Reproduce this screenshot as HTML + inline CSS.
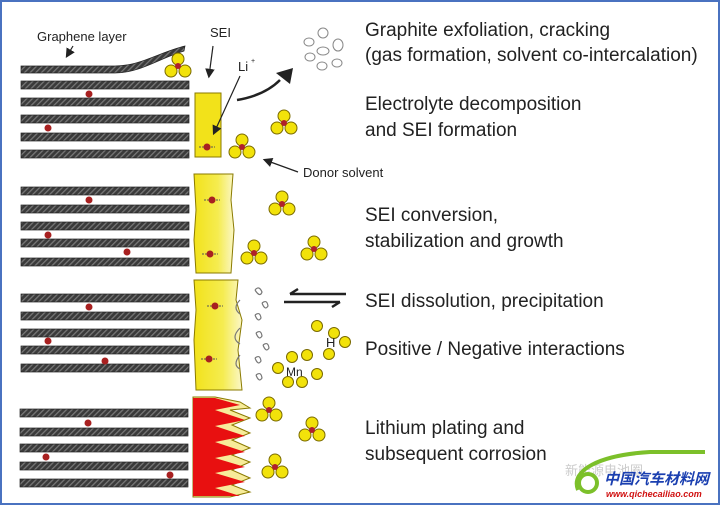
<!DOCTYPE html>
<html><head><meta charset="utf-8"><style>
html,body{margin:0;padding:0;background:#fff}
svg{display:block}
text{font-family:"Liberation Sans",sans-serif;fill:#222}
</style></head><body>
<svg width="720" height="505" viewBox="0 0 720 505" xmlns="http://www.w3.org/2000/svg">
<defs>
<pattern id="h" width="4" height="4" patternUnits="userSpaceOnUse" patternTransform="rotate(45)">
<rect width="4" height="4" fill="#3a3a3a"/><rect width="1.3" height="4" fill="#777"/></pattern>
<linearGradient id="yg" x1="0" x2="1"><stop offset="0" stop-color="#f2e21a"/><stop offset="0.6" stop-color="#f5ec50"/><stop offset="1" stop-color="#fbf7c8"/></linearGradient>
<g id="m"><circle cx="0" cy="-7" r="6" fill="#f2e20a" stroke="#7a6a00" stroke-width="1"/><circle cx="-7" cy="5" r="6" fill="#f2e20a" stroke="#7a6a00" stroke-width="1"/><circle cx="7" cy="5" r="6" fill="#f2e20a" stroke="#7a6a00" stroke-width="1"/><circle cx="0" cy="0" r="3" fill="#b0202a"/></g>
<g id="li"><line x1="-8" y1="0" x2="8" y2="0" stroke="#555" stroke-width="1" stroke-dasharray="2,1"/><circle r="3.5" fill="#a82020"/></g>
<marker id="ar" markerWidth="10" markerHeight="10" refX="6" refY="5" orient="auto"><path d="M0,1 L8,5 L0,9 z" fill="#222"/></marker>
</defs>
<rect x="1" y="1" width="718" height="503" fill="#fff" stroke="#4a72c0" stroke-width="2"/>
<g stroke="#222" stroke-width="0.7" fill="url(#h)">
<path d="M21,66 H115 C140,66 160,52 185,46 L184,51 C160,58 140,73 115,73 H21 z"/>
<rect x="21" y="81" width="168" height="8"/><rect x="21" y="98" width="168" height="8"/><rect x="21" y="115" width="168" height="8"/><rect x="21" y="133" width="168" height="8"/><rect x="21" y="150" width="168" height="8"/>
<rect x="21" y="187" width="168" height="8"/><rect x="21" y="205" width="168" height="8"/><rect x="21" y="222" width="168" height="8"/><rect x="21" y="239" width="168" height="8"/><rect x="21" y="258" width="168" height="8"/>
<rect x="21" y="294" width="168" height="8"/><rect x="21" y="312" width="168" height="8"/><rect x="21" y="329" width="168" height="8"/><rect x="21" y="346" width="168" height="8"/><rect x="21" y="364" width="168" height="8"/>
<rect x="20" y="409" width="168" height="8"/><rect x="20" y="428" width="168" height="8"/><rect x="20" y="444" width="168" height="8"/><rect x="20" y="462" width="168" height="8"/><rect x="20" y="479" width="168" height="8"/>
</g>
<g fill="#a82020"><circle cx="89" cy="94" r="3.5"/><circle cx="48" cy="128" r="3.5"/><circle cx="89" cy="200" r="3.5"/><circle cx="48" cy="235" r="3.5"/><circle cx="127" cy="252" r="3.5"/><circle cx="89" cy="307" r="3.5"/><circle cx="48" cy="341" r="3.5"/><circle cx="105" cy="361" r="3.5"/><circle cx="88" cy="423" r="3.5"/><circle cx="46" cy="457" r="3.5"/><circle cx="170" cy="475" r="3.5"/></g>
<rect x="195" y="93" width="26" height="64" fill="#f2e21a" stroke="#8a7a00" stroke-width="1"/>
<path d="M194,174 H233 L231,200 L234,230 L231,273 H196 L194,240 L196,210 z" fill="url(#yg)" stroke="#8a7a00" stroke-width="1"/>
<path d="M194,280 H238 L236,300 L242,320 L238,350 L242,390 H196 L194,340 L196,310 z" fill="url(#yg)" stroke="#8a7a00" stroke-width="1"/>
<g fill="none" stroke="#777" stroke-width="1.2"><path d="M240,300 q-8,8 0,14 M240,328 q-10,10 0,16 M240,355 q-8,10 0,14"/><path d="M255,290 q4,-5 7,2 q-2,6 -7,-2 M262,303 q5,-4 6,3 q-3,5 -6,-3 M255,315 q5,-4 6,3 q-3,5 -6,-3 M256,333 q5,-4 6,3 q-3,5 -6,-3 M263,345 q5,-4 6,3 q-3,5 -6,-3 M255,358 q5,-4 6,3 q-3,5 -6,-3 M256,375 q5,-4 6,3 q-3,5 -6,-3"/></g>
<path d="M193,397 H215 L240,402 L250,408 L230,410 L250,418 L232,425 L250,433 L232,440 L250,448 L232,455 L250,462 L232,470 L250,478 L232,485 L250,492 L230,497 H193 z" fill="#f7ec9a" stroke="#8a7a00" stroke-width="1"/>
<path d="M193,398 H215 L240,405 L215,410 L245,420 L215,426 L245,436 L215,442 L245,452 L215,458 L245,467 L215,473 L245,482 L215,488 L240,496 H193 z" fill="#e81010"/>
<use href="#li" x="207" y="147"/><use href="#li" x="212" y="200"/><use href="#li" x="210" y="254"/><use href="#li" x="215" y="306"/><use href="#li" x="209" y="359"/>
<use href="#m" x="178" y="66"/><use href="#m" x="284" y="123"/><use href="#m" x="242" y="147"/><use href="#m" x="282" y="204"/><use href="#m" x="254" y="253"/><use href="#m" x="314" y="249"/>
<use href="#m" x="269" y="410"/><use href="#m" x="312" y="430"/><use href="#m" x="275" y="467"/>
<g fill="#f2e20a" stroke="#7a6a00" stroke-width="1"><circle cx="317" cy="326" r="5.5"/><circle cx="334" cy="333" r="5.5"/><circle cx="345" cy="342" r="5.5"/><circle cx="329" cy="354" r="5.5"/><circle cx="292" cy="357" r="5.5"/><circle cx="307" cy="355" r="5.5"/><circle cx="278" cy="368" r="5.5"/><circle cx="317" cy="374" r="5.5"/><circle cx="288" cy="382" r="5.5"/><circle cx="302" cy="382" r="5.5"/></g>
<text x="286" y="376" font-size="12" fill="#444">Mn</text><text x="326" y="347" font-size="13" fill="#444">H</text>
<g fill="none" stroke="#888" stroke-width="1"><ellipse cx="323" cy="33" rx="5" ry="5"/><ellipse cx="309" cy="42" rx="5" ry="4"/><ellipse cx="338" cy="45" rx="5" ry="6"/><ellipse cx="323" cy="51" rx="6" ry="4"/><ellipse cx="310" cy="57" rx="5" ry="4"/><ellipse cx="322" cy="66" rx="5" ry="4"/><ellipse cx="337" cy="63" rx="5" ry="4"/></g>
<g stroke="#222" stroke-width="1.2" fill="none">
<line x1="73" y1="46" x2="67" y2="56" marker-end="url(#ar)"/>
<line x1="213" y1="46" x2="209" y2="76" marker-end="url(#ar)"/>
<line x1="240" y1="76" x2="214" y2="133" marker-end="url(#ar)"/>
<line x1="298" y1="172" x2="265" y2="160" marker-end="url(#ar)"/>
<path d="M237,100 C255,97 270,90 280,80" stroke-width="2.5"/>
</g>
<path d="M293,68 L276,73 L290,84 z" fill="#222"/>
<path d="M346,294 H290 M290,294 L298,289" stroke="#222" stroke-width="2.5" fill="none"/>
<path d="M284,302 H340 M340,302 L332,307" stroke="#222" stroke-width="2.5" fill="none"/>
<text x="37" y="41" font-size="13">Graphene layer</text>
<text x="210" y="37" font-size="13">SEI</text>
<text x="238" y="71" font-size="13">Li</text><text x="251" y="63" font-size="7">+</text>
<text x="303" y="177" font-size="13">Donor solvent</text>
<g font-size="19">
<text x="365" y="36">Graphite exfoliation, cracking</text>
<text x="365" y="61">(gas formation, solvent co-intercalation)</text>
<text x="365" y="110">Electrolyte decomposition</text>
<text x="365" y="136">and SEI formation</text>
<text x="365" y="221">SEI conversion,</text>
<text x="365" y="247">stabilization and growth</text>
<text x="365" y="307">SEI dissolution, precipitation</text>
<text x="365" y="355">Positive / Negative interactions</text>
<text x="365" y="434">Lithium plating and</text>
<text x="365" y="460">subsequent corrosion</text>
</g>
<text x="565" y="475" font-size="13" style="fill:#ccc;font-family:'Liberation Sans','Noto Sans CJK SC',sans-serif">新能源电池圈</text>
<path d="M578,490 C570,470 600,455 650,452 L705,452" fill="none" stroke="#7cc02a" stroke-width="4"/>
<circle cx="588" cy="483" r="9" fill="none" stroke="#7cc02a" stroke-width="4"/>
<text x="604" y="484" font-size="15" font-weight="bold" font-style="italic" style="fill:#1a3fb0;font-family:'Liberation Sans','Noto Sans CJK SC',sans-serif">中国汽车材料网</text>
<text x="606" y="497" font-size="9" font-weight="bold" font-style="italic" style="fill:#d01010">www.qichecailiao.com</text>
</svg>
</body></html>
